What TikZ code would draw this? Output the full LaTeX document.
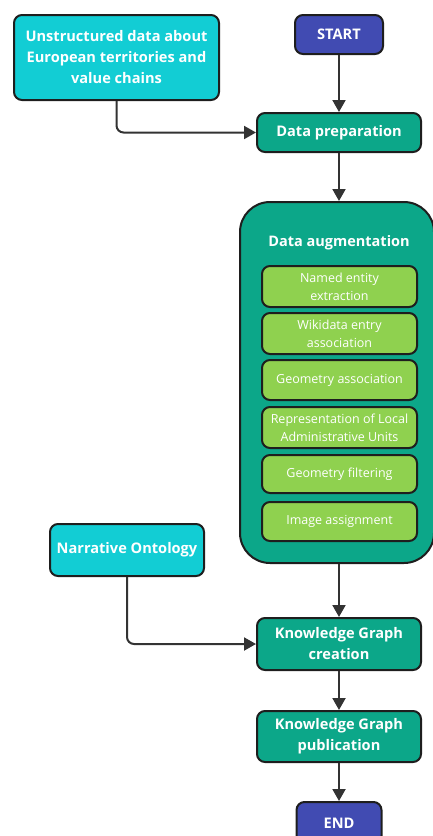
\documentclass[tikz,border=0pt]{standalone}
\usepackage{fontspec}
\setmainfont{Open Sans}
\usetikzlibrary{arrows.meta,positioning}

\definecolor{cyanbox}{HTML}{12CDD4}
\definecolor{bluebox}{HTML}{414BB2}
\definecolor{tealbox}{HTML}{0CA789}
\definecolor{greenbox}{HTML}{8FD14F}
\definecolor{edge}{HTML}{1E1E1E}
\definecolor{wire}{HTML}{333333}

\tikzset{
  x=1pt, y=-1pt,
  base/.style={draw=edge, line width=2pt, rounded corners=8pt, text=white,
    align=center, inner sep=0pt},
  srcbox/.style={base, fill=cyanbox, font=\bfseries\fontsize{14.6}{21}\selectfont},
  termbox/.style={base, fill=bluebox, font=\bfseries\fontsize{14.6}{21}\selectfont},
  procbox/.style={base, fill=tealbox, font=\bfseries\fontsize{14.6}{21}\selectfont},
  subbox/.style={base, fill=greenbox, font=\fontsize{12.5}{18}\selectfont,
    minimum width=155pt},
  groupbox/.style={base, fill=tealbox, rounded corners=30pt},
  flow/.style={draw=wire, line width=2pt, -{Triangle[length=12pt,width=13pt]}},
}

\begin{document}
\begin{tikzpicture}
\useasboundingbox (0,0) rectangle (433,836);
\clip (0,0) rectangle (433,836);

% inputs
\node[srcbox, minimum width=205pt, minimum height=85pt] (unstr) at (116.5,57.5)
  {Unstructured data about\\European territories and\\value chains};
\node[srcbox, minimum width=154pt, minimum height=52pt] (narr) at (127,550)
  {Narrative Ontology};

% main flow
\node[termbox, minimum width=88pt, minimum height=39pt] (start) at (339,34.5) {START};
\node[procbox, minimum width=164pt, minimum height=39pt] (prep) at (339,132.5) {Data preparation};

% augmentation group
\node[groupbox, minimum width=194pt, minimum height=361pt] (aug) at (337,382.5) {};
\node[text=white, font=\bfseries\fontsize{14.5}{18}\selectfont] (augtitle) at (339,243)
  {Data augmentation};
\node[subbox, minimum height=41pt] (ner) at (339.5,286.5) {Named entity\\extraction};
\node[subbox, minimum height=41pt] (wiki) at (339.5,333.5) {Wikidata entry\\association};
\node[subbox, minimum height=40pt] (geoa) at (339.5,380) {Geometry association};
\node[subbox, minimum height=41pt] (lau) at (339.5,427.5) {Representation of Local\\Administrative Units};
\node[subbox, minimum height=38pt] (geof) at (339.5,474) {Geometry filtering};
\node[subbox, minimum height=39pt] (img) at (339.5,521.5) {Image assignment};

\node[procbox, minimum width=164pt, minimum height=52pt] (kgc) at (339,644) {Knowledge Graph\\creation};
\node[procbox, minimum width=164pt, minimum height=51pt] (kgp) at (339,736.5) {Knowledge Graph\\publication};
\node[termbox, minimum width=85pt, minimum height=42pt] (end) at (339,823) {END};

% connectors
\draw[flow] (start.south) -- (prep.north);
\draw[flow, rounded corners=7pt] (unstr.south) |- (prep.west);
\draw[flow] (prep.south) -- (prep.south |- aug.north);
\draw[flow] (kgc.north |- aug.south) -- (kgc.north);
\draw[flow, rounded corners=7pt] (narr.south) |- (kgc.west);
\draw[flow] (kgc.south) -- (kgp.north);
\draw[flow] (kgp.south) -- (end.north);
\end{tikzpicture}
\end{document}
